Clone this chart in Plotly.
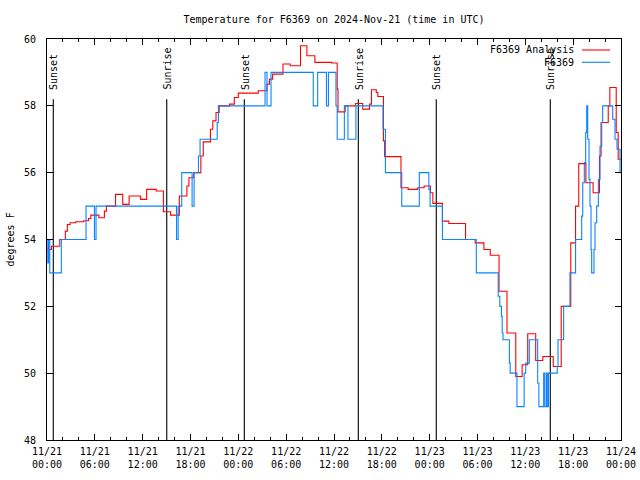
import pandas as pd
import plotly.graph_objects as go

# ---------------- data (hours after 2024-11-21 00:00 UTC) ----------------
start_time = "2024-11-21 00:00"
end_time = "2024-11-24 00:00"

analysis_hours = [0, 0.55, 1.6, 2.3, 2.55, 2.9, 3.6, 4.6, 5.2, 5.5, 6.5, 7.2, 7.45, 8.6, 9.5,
                  10.3, 11.75, 12.5, 13.7, 14.6, 15.5, 16.6, 17.55, 17.8, 18.4, 19.3, 19.6,
                  20.5, 20.8, 21.2, 21.6, 22.9, 23.5, 24.0, 26.5, 27.6, 27.9, 28.3, 29.6,
                  30.5, 31.8, 32.6, 33.6, 35.7, 36.4, 36.5, 37.4, 38.7, 39.6, 40.45, 40.7,
                  41.3, 41.5, 42.2, 42.35, 44.4, 45.3, 46.5, 47.3, 48.1, 48.4, 49.6, 50.4,
                  52.5, 53.7, 54.8, 55.6, 56.7, 57.7, 58.8, 59.6, 60.3, 61.3, 62.2, 63.5,
                  64.5, 65.7, 66.3, 66.7, 67.6, 68.5, 69.3, 69.5, 70.4, 70.6, 71.4, 71.65, 72]
analysis_temps = [53.7, 53.8, 54.0, 54.25, 54.45, 54.5, 54.53, 54.56, 54.63, 54.73, 54.65, 54.85,
                  55.0, 55.35, 55.05, 55.3, 55.2, 55.5, 55.45, 54.83, 54.73, 55.3, 55.6, 55.85,
                  56.0, 56.5, 56.92, 57.3, 57.55, 57.8, 58.0, 58.05, 58.25, 58.38, 58.45, 58.65,
                  58.8, 58.95, 59.25, 59.2, 59.8, 59.5, 59.3, 59.28, 58.5, 57.82, 58.0, 58.07,
                  57.9, 58.05, 58.48, 58.4, 58.28, 56.95, 56.48, 55.55, 55.5, 55.55, 55.6, 55.4,
                  55.08, 54.55, 54.48, 54.0, 53.9, 53.7, 53.53, 52.45, 51.2, 49.9, 50.25, 51.18,
                  50.38, 50.5, 50.2, 52.0, 53.9, 55.0, 56.27, 55.7, 55.4, 56.5, 57.5, 58.0,
                  58.55, 57.2, 56.4, 56.4]

obs_hours = [0, 0.1, 0.2, 0.35, 1.8, 4.9, 5.95, 6.15, 16.25, 16.45, 16.9, 18.2, 18.45, 19.0,
             19.2, 21.35, 21.5, 27.35, 27.6, 28.1, 33.4, 33.95, 35.05, 35.3, 36.25, 36.4, 37.3,
             37.75, 38.75, 42.15, 42.45, 44.5, 46.7, 47.9, 48.05, 49.6, 53.85, 56.6, 56.8, 57.0,
             57.1, 57.2, 58.0, 58.1, 58.95, 59.85, 60.05, 60.5, 61.55, 61.7, 62.3, 62.45, 62.65,
             62.75, 62.9, 64.0, 64.1, 64.8, 65.6, 66.3, 67.07, 67.2, 67.4, 67.57, 67.7, 67.82,
             67.99, 68.11, 68.24, 68.32, 68.61, 68.74, 68.95, 69.16, 69.37, 69.58, 69.7, 70.96,
             71.25, 71.5, 71.88, 72]
obs_temps = [54, 53.3, 54, 53, 54, 55, 54, 55, 54, 55, 56, 55, 56, 56.5, 57, 57.5, 58, 59, 58,
             59, 58, 59, 58, 59, 58, 57, 58, 57, 58, 57.3, 56, 55, 56, 55.5, 55, 54, 53, 52.3,
             52, 51.7, 51.2, 51, 50.3, 50, 49, 50, 50.3, 51, 49.7, 49, 50, 49, 50, 49, 50, 50.2,
             51, 52, 53, 54, 54.7, 55.7, 56.3, 57.2, 58, 57, 55.8, 55, 53.7, 53, 53.7, 54.5, 55,
             55.8, 56.8, 57.5, 58, 57.6, 57.0, 56.7, 56.0, 56.0]

sun_labels = ["Sunset", "Sunrise", "Sunset", "Sunrise", "Sunset", "Sunrise"]
sun_hours = [0.79, 15.02, 24.75, 39.05, 48.83, 63.13]
sun_line_top = 58.2
sun_label_base = 58.42

y_min, y_max, y_step = 48, 60, 2
series_names = ["F6369 Analysis", "F6369"]
series_colors = ["#ff0000", "#0a84ff"]

# ---------------- build ----------------
t0 = pd.Timestamp(start_time)


def to_times(hours):
    return [t0 + pd.Timedelta(hours=h) for h in hours]


FONT = "DejaVu Sans Mono"
fig = go.Figure()

for h in sun_hours:
    t = to_times([h])[0]
    fig.add_trace(go.Scatter(x=[t, t], y=[y_min, sun_line_top], mode="lines",
                             line=dict(color="black", width=1.1), showlegend=False,
                             hoverinfo="skip"))

fig.add_trace(go.Scatter(x=to_times(analysis_hours), y=analysis_temps, mode="lines",
                         line=dict(color=series_colors[0], width=1.1, shape="hv"),
                         name=series_names[0], showlegend=False))
fig.add_trace(go.Scatter(x=to_times(obs_hours), y=obs_temps, mode="lines",
                         line=dict(color=series_colors[1], width=1.1, shape="hv"),
                         name=series_names[1], showlegend=False))

annotations = []
for lab, h in zip(sun_labels, sun_hours):
    annotations.append(dict(x=to_times([h])[0], y=sun_label_base, xref="x", yref="y",
                            text=lab, textangle=-90, showarrow=False,
                            xanchor="center", yanchor="bottom", xshift=1,
                            font=dict(family=FONT, size=10, color="black")))

# legend (gnuplot style: text left of sample)
legend_y = [0.9726, 0.942]
for name, col, ly in zip(series_names, series_colors, legend_y):
    annotations.append(dict(x=0.921, y=ly, xref="paper", yref="paper", text=name,
                            showarrow=False, xanchor="right", yanchor="middle",
                            font=dict(family=FONT, size=10, color="black")))
shapes = []
for col, ly in zip(series_colors, legend_y):
    shapes.append(dict(type="line", xref="paper", yref="paper", x0=0.932, x1=0.981,
                       y0=ly, y1=ly, line=dict(color=col, width=1.1)))

annotations.append(dict(x=0, y=0.5, xref="paper", yref="paper", text="degrees F",
                        textangle=-90, showarrow=False, xshift=-37,
                        xanchor="center", yanchor="middle",
                        font=dict(family=FONT, size=10, color="black")))

fig.update_layout(
    width=640, height=480,
    margin=dict(l=47, r=19, t=39, b=40, autoexpand=False),
    paper_bgcolor="white", plot_bgcolor="white",
    title=dict(text="Temperature for F6369 on 2024-Nov-21 (time in UTC)",
               x=0.5, xref="paper", y=1 - 19 / 480, yanchor="middle",
               font=dict(family=FONT, size=10, color="black")),
    font=dict(family=FONT, size=10, color="black"),
    annotations=annotations, shapes=shapes,
    showlegend=False,
)

fig.update_xaxes(
    type="date", range=[start_time, end_time], automargin=False,
    showgrid=False, zeroline=False,
    showline=True, linecolor="black", linewidth=1, mirror="ticks",
    ticks="inside", ticklen=6, tickcolor="black",
    tick0=start_time, dtick=6 * 3600 * 1000,
    tickformat="%m/%d<br>%H:%M",
    ticklabelstandoff=2,
    minor=dict(ticks="inside", ticklen=3, tickcolor="black", dtick=2 * 3600 * 1000,
               showgrid=False),
    tickfont=dict(family=FONT, size=10, color="black"),
)
fig.update_yaxes(
    range=[y_min, y_max], showgrid=False, zeroline=False, automargin=False,
    showline=True, linecolor="black", linewidth=1, mirror="ticks",
    ticks="inside", ticklen=6, tickcolor="black",
    tick0=y_min, dtick=y_step,
    ticklabelstandoff=8,
    tickfont=dict(family=FONT, size=10, color="black"),
)

fig.write_html("out.html",
               config={"displayModeBar": False},
               post_script="document.body.style.margin='0';document.body.style.padding='0';")
